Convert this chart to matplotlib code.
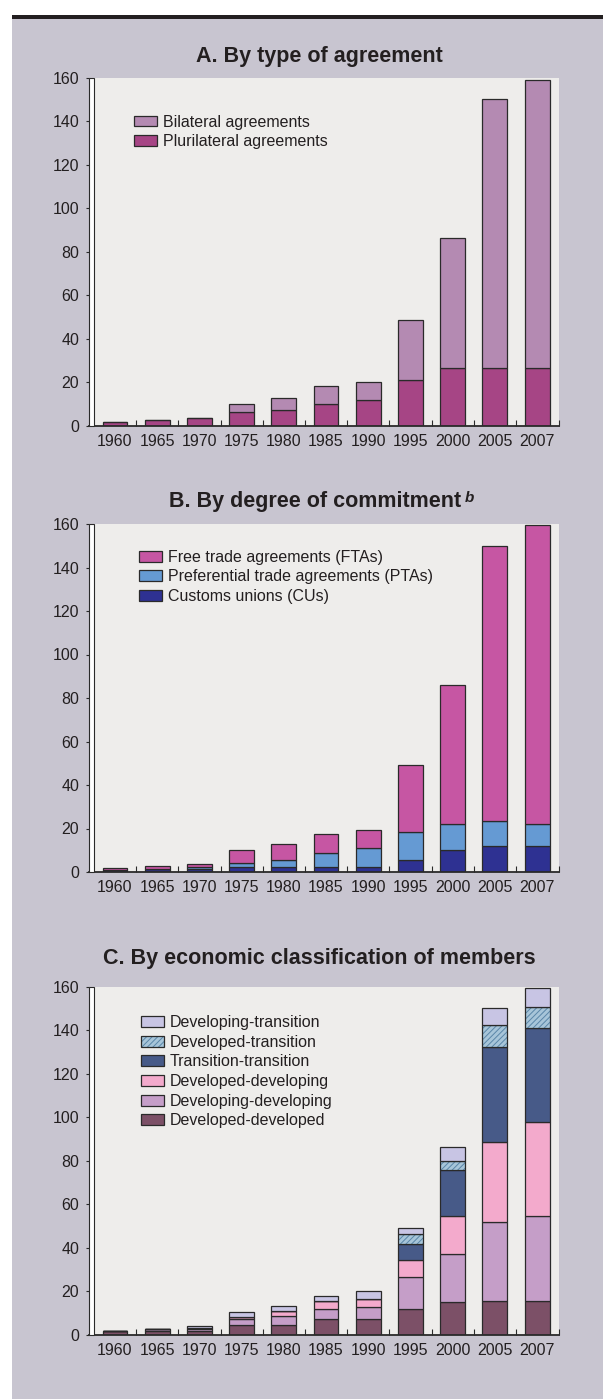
import numpy as np
import matplotlib
matplotlib.use('Agg')
import matplotlib.pyplot as plt
from matplotlib.patches import Patch, Rectangle
from matplotlib.legend_handler import HandlerTuple

# Categories
years = ['1960', '1965', '1970', '1975', '1980', '1985', '1990', '1995', '2000', '2005', '2007']

# Panel A: by type of agreement
plurilateral = [1.5, 2.6, 3.4, 6.3, 7.2, 10.0, 11.8, 21.0, 26.5, 26.5, 26.5]
bilateral = [0, 0, 0, 3.7, 5.5, 8.2, 8.2, 27.7, 59.9, 123.5, 132.5]

# Panel B: by degree of commitment
customs_unions = [0.8, 1.2, 1.5, 2.3, 2.3, 2.3, 2.3, 5.4, 10.3, 12.0, 12.0]
pref_trade = [0, 0, 0.9, 1.8, 3.1, 6.6, 8.7, 13.0, 11.9, 11.3, 10.2]
free_trade = [0.9, 1.4, 1.1, 6.0, 7.5, 8.7, 8.4, 30.6, 63.6, 126.7, 137.4]

# Panel C: by economic classification of members
developed_developed = [1.8, 1.8, 1.5, 4.6, 4.6, 7.4, 7.4, 12.0, 14.9, 15.7, 15.7]
developing_developing = [0, 1.0, 1.0, 2.8, 3.9, 4.6, 5.4, 14.6, 22.0, 36.1, 38.8]
developed_developing = [0, 0, 0.5, 0.8, 2.6, 3.7, 3.7, 7.6, 17.6, 37.0, 43.5]
transition_transition = [0, 0, 0, 0, 0, 0, 0, 7.3, 21.2, 43.5, 42.8]
developed_transition = [0, 0, 0, 0, 0, 0, 0, 4.7, 4.0, 10.0, 10.0]
developing_transition = [0, 0, 0.8, 2.1, 2.0, 2.0, 3.8, 3.0, 6.5, 7.7, 8.4]

plt.rcParams['font.family'] = ['Liberation Sans', 'DejaVu Sans']
plt.rcParams['hatch.linewidth'] = 0.7
TEXT = '#231f20'
EDGE = '#2a2a2a'
HATCH_C = '#5a86a8'
W, H = 603, 1399
BAR_W = 0.59

fig = plt.figure(figsize=(W / 100, H / 100), dpi=100, facecolor='white')
# gray panel and black rule at the top
fig.patches.append(Rectangle((11.5 / W, 0), 1, 1 - 19 / H, transform=fig.transFigure,
                             facecolor='#c8c5d0', edgecolor='none', zorder=-10))
fig.patches.append(Rectangle((11.5 / W, 1 - 19.2 / H), 1, 4.2 / H, transform=fig.transFigure,
                             facecolor=TEXT, edgecolor='none', zorder=-9))


def make_axes(top):
    ax = fig.add_axes([89 / W, 1 - (top + 348) / H, 470 / W, 348 / H])
    ax.set_facecolor('#eeedeb')
    ax.set_xlim(-0.616, 10.52)
    ax.set_ylim(0, 160)
    for s in ['top', 'right', 'left']:
        ax.spines[s].set_visible(False)
    ax.spines['bottom'].set_color(EDGE)
    ax.spines['bottom'].set_linewidth(1.3)
    ax.add_patch(Rectangle((0, 0), 5 / 470, 1, transform=ax.transAxes, facecolor='white',
                           edgecolor=EDGE, linewidth=0.8, clip_on=False, zorder=3))
    ax.set_yticks(np.arange(0, 161, 20))
    ax.tick_params(axis='y', direction='out', length=2.5, width=0.8, color=EDGE,
                   pad=4.5, labelsize=11.5, labelcolor=TEXT)
    ax.set_xticks(np.arange(len(years)))
    ax.set_xticklabels(years)
    ax.tick_params(axis='x', which='major', length=0, pad=6, labelsize=11.5, labelcolor=TEXT)
    ax.set_xticks(list(np.arange(0.5, 10, 1)) + [10.52], minor=True)
    ax.tick_params(axis='x', which='minor', direction='in', length=4, width=0.8, color=EDGE)
    return ax


def stack(ax, series, colors, hatches):
    x = np.arange(len(years))
    bottom = np.zeros(len(years))
    for vals, c, h in zip(series, colors, hatches):
        vals = np.array(vals, dtype=float)
        if h:
            ax.bar(x, vals, BAR_W, bottom=bottom, color=c, edgecolor=HATCH_C, hatch=h,
                   linewidth=0, zorder=2)
            ax.bar(x, vals, BAR_W, bottom=bottom, fill=False, edgecolor=EDGE,
                   linewidth=0.9, zorder=2)
        else:
            ax.bar(x, vals, BAR_W, bottom=bottom, color=c, edgecolor=EDGE,
                   linewidth=0.9, zorder=2)
        bottom += vals


def legend(ax, labels, colors, hatches, anchor):
    handles = []
    for c, h in zip(colors, hatches):
        if h:
            handles.append((Patch(facecolor=c, edgecolor=HATCH_C, hatch=h, linewidth=0),
                            Patch(fill=False, edgecolor=EDGE, linewidth=0.9)))
        else:
            handles.append(Patch(facecolor=c, edgecolor=EDGE, linewidth=0.9))
    ax.legend(handles, labels, loc='upper left', bbox_to_anchor=anchor, frameon=False,
              fontsize=11.5, labelcolor=TEXT, borderpad=0, borderaxespad=0,
              handlelength=1.44, handleheight=0.67, handletextpad=0.35, labelspacing=0.29,
              handler_map={tuple: HandlerTuple(ndivide=1, pad=0)})


def title(y_base, text):
    return fig.text(319 / W, 1 - y_base / H, text, ha='center', va='baseline',
                    fontsize=15.5, fontweight='bold', color=TEXT)


# Panel A
axA = make_axes(77.7)
colsA = ['#a64585', '#b48ab2']
stack(axA, [plurilateral, bilateral], colsA, [None, None])
legend(axA, ['Bilateral agreements', 'Plurilateral agreements'], colsA[::-1], [None, None],
       (0.0957, 0.894))
title(61.7, 'A. By type of agreement')

# Panel B
axB = make_axes(524)
colsB = ['#2e3192', '#659ad3', '#c656a3']
stack(axB, [customs_unions, pref_trade, free_trade], colsB, [None] * 3)
legend(axB, ['Free trade agreements (FTAs)', 'Preferential trade agreements (PTAs)',
             'Customs unions (CUs)'], colsB[::-1], [None] * 3, (0.107, 0.926))
tB = fig.text(315 / W, 1 - 506.7 / H, 'B. By degree of commitment', ha='center',
              va='baseline', fontsize=15.5, fontweight='bold', color=TEXT)
axB.annotate('b', xy=(1, 1), xycoords=tB, xytext=(2.5, 0), textcoords='offset points',
             ha='left', va='top', fontsize=11, fontweight='bold', style='italic', color=TEXT,
             annotation_clip=False)

# Panel C
axC = make_axes(986.7)
colsC = ['#7c5067', '#c59ec8', '#f3aacc', '#475a88', '#a7c5d9', '#c8c5e4']
hatC = [None, None, None, None, '//////', None]
stack(axC, [developed_developed, developing_developing, developed_developing,
            transition_transition, developed_transition, developing_transition], colsC, hatC)
legend(axC, ['Developing-transition', 'Developed-transition', 'Transition-transition',
             'Developed-developing', 'Developing-developing', 'Developed-developed'],
       colsC[::-1], hatC[::-1], (0.111, 0.918))
title(964, 'C. By economic classification of members')

fig.savefig('out.png', dpi=100, facecolor=fig.get_facecolor())
